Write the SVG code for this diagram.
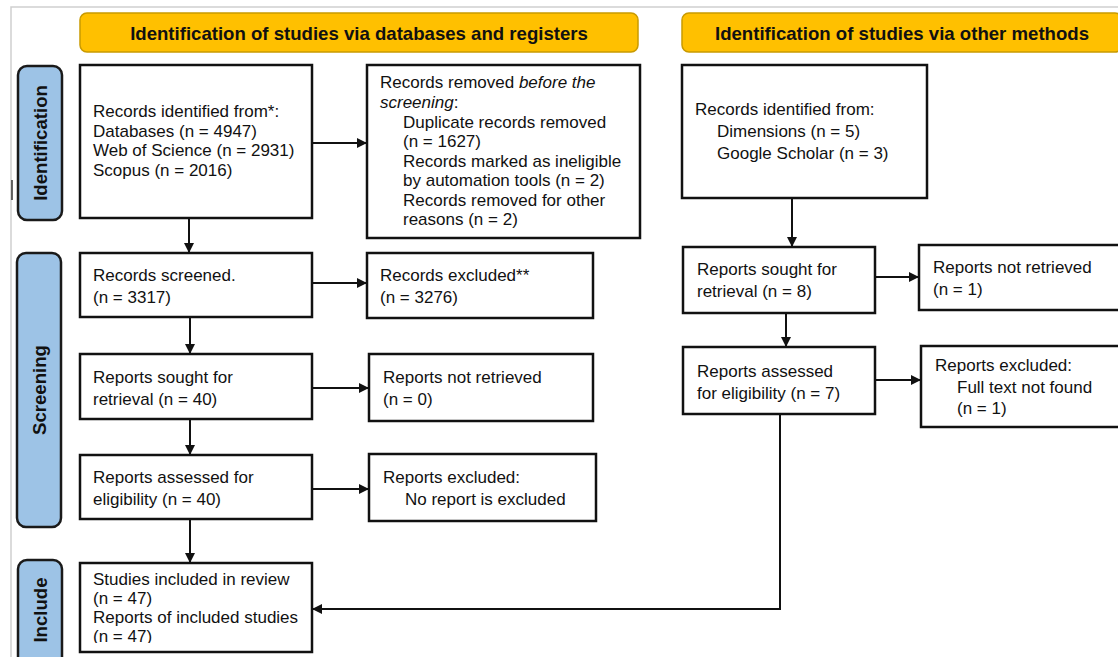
<svg xmlns="http://www.w3.org/2000/svg" width="1118" height="657" viewBox="0 0 1118 657">
<style>
text{font-family:"Liberation Sans",Arial,sans-serif;font-size:17px;fill:#111}
.hdr{fill:#FFC000;stroke:#C99A00;stroke-width:1.5}
.hdrt{font-weight:bold;font-size:18.6px;text-anchor:middle}
.side{fill:#9DC3E6;stroke:#1a1a1a;stroke-width:2.5}
.sidet{font-weight:bold;font-size:18.6px;text-anchor:middle}
.box{fill:#fff;stroke:#111;stroke-width:2.5}
.ln{fill:none;stroke:#111;stroke-width:2}
</style>
<defs>
<marker id="ah" viewBox="0 0 10 10" refX="10" refY="5" markerWidth="10" markerHeight="10" markerUnits="userSpaceOnUse" orient="auto">
<path d="M0,0 L10,5 L0,10 z" fill="#111"/>
</marker>
<clipPath id="clipI"><rect x="80" y="560" width="232" height="83"/></clipPath>
</defs>
<rect x="0" y="0" width="1118" height="657" fill="#fff"/>
<path d="M11,657 L11,7 L1118,7" fill="none" stroke="#cfcfcf" stroke-width="1.5"/>
<line x1="12" y1="180" x2="12" y2="200" stroke="#333" stroke-width="1.5"/>

<g id="header-databases"><rect class="hdr" x="80" y="13" width="558" height="39" rx="7"/><text class="hdrt" x="359" y="39.5">Identification of studies via databases and registers</text></g>
<g id="header-other"><rect class="hdr" x="682" y="13" width="440" height="39" rx="7"/><text class="hdrt" x="902" y="39.5">Identification of studies via other methods</text></g>

<g id="side-identification"><rect class="side" x="18" y="66" width="44" height="154" rx="9"/><text class="sidet" transform="translate(47,143) rotate(-90)">Identification</text></g>
<g id="side-screening"><rect class="side" x="17" y="253" width="44" height="274" rx="9"/><text class="sidet" transform="translate(46,390) rotate(-90)">Screening</text></g>
<g id="side-include"><rect class="side" x="18" y="560" width="44" height="110" rx="9"/><text class="sidet" transform="translate(47,610) rotate(-90)">Include</text></g>

<g id="connectors">
<line class="ln" x1="312" y1="143" x2="367" y2="143" marker-end="url(#ah)"/>
<line class="ln" x1="189" y1="218" x2="189" y2="253" marker-end="url(#ah)"/>
<line class="ln" x1="312" y1="283" x2="367" y2="283" marker-end="url(#ah)"/>
<line class="ln" x1="190" y1="317" x2="190" y2="354" marker-end="url(#ah)"/>
<line class="ln" x1="312" y1="388" x2="369" y2="388" marker-end="url(#ah)"/>
<line class="ln" x1="190" y1="419" x2="190" y2="455" marker-end="url(#ah)"/>
<line class="ln" x1="312" y1="489" x2="369" y2="489" marker-end="url(#ah)"/>
<line class="ln" x1="190" y1="519" x2="190" y2="563" marker-end="url(#ah)"/>
<line class="ln" x1="792" y1="198" x2="792" y2="247" marker-end="url(#ah)"/>
<line class="ln" x1="875" y1="277" x2="919" y2="277" marker-end="url(#ah)"/>
<line class="ln" x1="786" y1="313" x2="786" y2="347" marker-end="url(#ah)"/>
<line class="ln" x1="875" y1="380" x2="921" y2="380" marker-end="url(#ah)"/>
<polyline class="ln" points="780,414 780,609 312,609" marker-end="url(#ah)"/>
</g>

<g id="records-identified"><rect class="box" x="80" y="65" width="232" height="153"/>
<text x="93" y="117">Records identified from*:</text>
<text x="93" y="136.5">Databases (n = 4947)</text>
<text x="93" y="156">Web of Science (n = 2931)</text>
<text x="93" y="175.5">Scopus (n = 2016)</text></g>

<g id="records-removed"><rect class="box" x="367" y="65" width="273" height="173"/>
<text x="380" y="88">Records removed <tspan font-style="italic">before the</tspan></text>
<text x="380" y="108"><tspan font-style="italic">screening</tspan>:</text>
<text x="403" y="127.5">Duplicate records removed</text>
<text x="403" y="147">(n = 1627)</text>
<text x="403" y="166.5">Records marked as ineligible</text>
<text x="403" y="186">by automation tools (n = 2)</text>
<text x="403" y="205.5">Records removed for other</text>
<text x="403" y="225">reasons (n = 2)</text></g>

<g id="records-screened"><rect class="box" x="80" y="253" width="232" height="64"/>
<text x="93" y="281">Records screened.</text>
<text x="93" y="303">(n = 3317)</text></g>

<g id="records-excluded"><rect class="box" x="367" y="253" width="226" height="65"/>
<text x="380" y="281">Records excluded**</text>
<text x="380" y="303">(n = 3276)</text></g>

<g id="reports-sought-db"><rect class="box" x="80" y="354" width="232" height="65"/>
<text x="93" y="383">Reports sought for</text>
<text x="93" y="405">retrieval (n = 40)</text></g>

<g id="reports-not-retrieved-db"><rect class="box" x="369" y="354" width="224" height="67"/>
<text x="383" y="383">Reports not retrieved</text>
<text x="383" y="405">(n = 0)</text></g>

<g id="reports-assessed-db"><rect class="box" x="80" y="455" width="232" height="64"/>
<text x="93" y="483">Reports assessed for</text>
<text x="93" y="505">eligibility (n = 40)</text></g>

<g id="reports-excluded-db"><rect class="box" x="369" y="454" width="227" height="67"/>
<text x="383" y="483">Reports excluded:</text>
<text x="405" y="505">No report is excluded</text></g>

<g id="studies-included"><rect class="box" x="80" y="563" width="232" height="89"/>
<g clip-path="url(#clipI)">
<text x="93" y="585">Studies included in review</text>
<text x="93" y="604">(n = 47)</text>
<text x="93" y="623">Reports of included studies</text>
<text x="93" y="642">(n = 47)</text></g></g>

<g id="records-identified-other"><rect class="box" x="682" y="65" width="245" height="133"/>
<text x="695" y="115">Records identified from:</text>
<text x="717" y="137">Dimensions (n = 5)</text>
<text x="717" y="159">Google Scholar (n = 3)</text></g>

<g id="reports-sought-other"><rect class="box" x="683" y="247" width="192" height="66"/>
<text x="697" y="275">Reports sought for</text>
<text x="697" y="297">retrieval (n = 8)</text></g>

<g id="reports-not-retrieved-other"><rect class="box" x="919" y="245" width="210" height="65"/>
<text x="933" y="273">Reports not retrieved</text>
<text x="933" y="295">(n = 1)</text></g>

<g id="reports-assessed-other"><rect class="box" x="683" y="347" width="192" height="67"/>
<text x="697" y="377">Reports assessed</text>
<text x="697" y="399">for eligibility (n = 7)</text></g>

<g id="reports-excluded-other"><rect class="box" x="921" y="346" width="210" height="81"/>
<text x="935" y="371">Reports excluded:</text>
<text x="957" y="393">Full text not found</text>
<text x="957" y="414">(n = 1)</text></g>
</svg>
